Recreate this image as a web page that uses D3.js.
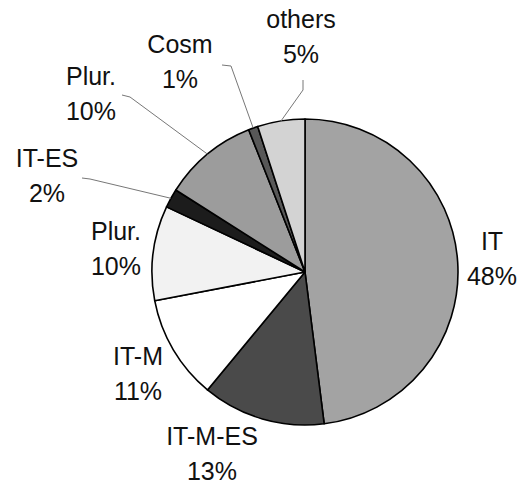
<!DOCTYPE html>
<html>
<head>
<meta charset="utf-8">
<script src="https://cdn.jsdelivr.net/npm/d3@7"></script>
<style>
  body { margin: 0; background: #fff; }
  text { font-family: "Liberation Sans", Arial, sans-serif; fill: #111; }
</style>
</head>
<body>
<div id="chart"></div>
<script>
var width = 519;
var height = 484;

// data, clockwise from 12 o'clock
var labels = ["IT", "IT-M-ES", "IT-M", "Plur.", "IT-ES", "Plur.", "Cosm", "others"];
var values = [48, 13, 11, 10, 2, 10, 1, 5];
var shades = ["#a3a3a3", "#4a4a4a", "#ffffff", "#f2f2f2", "#1c1c1c", "#9c9c9c", "#585858", "#d3d3d3"];

var cx = 305, cy = 272, radius = 153;

// label anchor (centre x, baseline of first line) for each slice
var labelPos = [[492, 250], [212, 445], [138, 365], [116, 240], [47, 167], [91, 85], [180, 53], [301, 28]];
// elbow points for leader lines (only small/crowded slices)
var leaders = {
  4: [[90, 179], [82, 178]],
  5: [[130, 97], [122, 95]],
  6: [[231, 66], [222, 65]],
  7: [[303, 90], [303, 80]]
};

var svg = d3.select("#chart")
  .append("svg")
  .attr("width", width)
  .attr("height", height);

var pieData = d3.pie().sort(null).value(d => d)(values);

var arc = d3.arc().innerRadius(0).outerRadius(radius);

var pieGroup = svg.append("g")
  .attr("transform", `translate(${cx}, ${cy})`);

pieGroup.selectAll("path")
  .data(pieData)
  .enter()
  .append("path")
  .attr("d", arc)
  .attr("fill", (d, i) => shades[i])
  .attr("stroke", "#000")
  .attr("stroke-width", 1.6)
  .attr("stroke-linejoin", "round");

// leader lines
Object.keys(leaders).forEach(function(k) {
  var d = pieData[k];
  var mid = (d.startAngle + d.endAngle) / 2;
  var start = [cx + radius * Math.sin(mid), cy - radius * Math.cos(mid)];
  var pts = [start].concat(leaders[k]);
  svg.append("path")
    .attr("d", d3.line()(pts))
    .attr("fill", "none")
    .attr("stroke", "#777")
    .attr("stroke-width", 1);
});

// labels
var lab = svg.selectAll(".lab")
  .data(pieData)
  .enter()
  .append("text")
  .attr("class", "lab")
  .attr("text-anchor", "middle")
  .attr("font-size", 25)
  .attr("x", (d, i) => labelPos[i][0])
  .attr("y", (d, i) => labelPos[i][1]);

lab.append("tspan")
  .attr("x", (d, i) => labelPos[i][0])
  .text((d, i) => labels[i]);

lab.append("tspan")
  .attr("x", (d, i) => labelPos[i][0])
  .attr("dy", 35)
  .text(d => d.data + "%");
</script>
</body>
</html>
